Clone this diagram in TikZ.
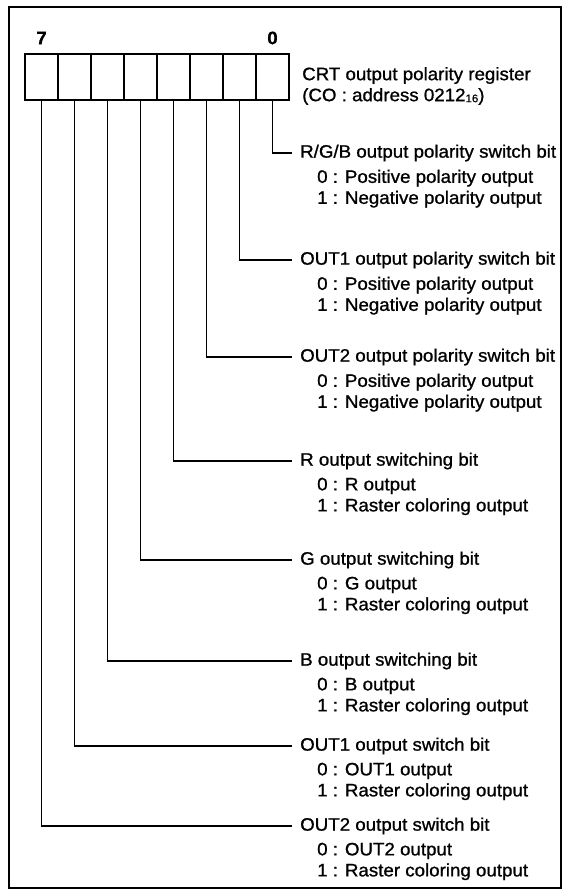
\documentclass[tikz,border=0pt]{standalone}
\usepackage{fontspec}
\setmainfont{Liberation Sans}[FakeStretch=1.04, FakeBold=1]
\begin{document}
\begin{tikzpicture}[x=1pt,y=1pt]
    \tikzstyle{every node}+=[inner sep=0pt, font=\fontsize{18}{21}\selectfont]
    \tikzstyle{cell}=[draw, line width=2.6pt, minimum width=33pt, minimum height=46pt]
    \tikzstyle{lead}=[line width=1.5pt]
    \tikzstyle{title}=[anchor=west, inner xsep=8pt]
    \tikzstyle{opt}=[anchor=north west, align=left]
    \useasboundingbox (0,0) rectangle (567,-892);
    \draw [line width=2pt] (9,-7) rectangle (561,-888);
    % register cells, bit 7 on the left
    \node [cell] (c7) at (41.5,-77) {};
    \node [cell] (c6) at (74.5,-77) {};
    \node [cell] (c5) at (107.5,-77) {};
    \node [cell] (c4) at (140.5,-77) {};
    \node [cell] (c3) at (173.5,-77) {};
    \node [cell] (c2) at (206.5,-77) {};
    \node [cell] (c1) at (239.5,-77) {};
    \node [cell] (c0) at (272.5,-77) {};
    \node [font=\fontsize{18}{21}\selectfont\bfseries] (n7) at (41.5,-38) {7};
    \node [font=\fontsize{18}{21}\selectfont\bfseries] (n0) at (272.5,-38) {0};
    \node [anchor=west, align=left] (reg) at (302,-86) {CRT output polarity register\\(CO : address 0212\raisebox{-1pt}{\fontsize{11}{11}\selectfont 16})};
    % bit descriptions
    \node [title] (t0) at (292,-153) {R/G/B output polarity switch bit};
    \node [opt] (d0) at ([xshift=25pt,yshift=-8pt]t0.south west) {0 : Positive polarity output\\1 : Negative polarity output};
    \node [title] (t1) at (292,-260) {OUT1 output polarity switch bit};
    \node [opt] (d1) at ([xshift=25pt,yshift=-8pt]t1.south west) {0 : Positive polarity output\\1 : Negative polarity output};
    \node [title] (t2) at (292,-357) {OUT2 output polarity switch bit};
    \node [opt] (d2) at ([xshift=25pt,yshift=-8pt]t2.south west) {0 : Positive polarity output\\1 : Negative polarity output};
    \node [title] (t3) at (292,-461) {R output switching bit};
    \node [opt] (d3) at ([xshift=25pt,yshift=-8pt]t3.south west) {0 : R output\\1 : Raster coloring output};
    \node [title] (t4) at (292,-560) {G output switching bit};
    \node [opt] (d4) at ([xshift=25pt,yshift=-8pt]t4.south west) {0 : G output\\1 : Raster coloring output};
    \node [title] (t5) at (292,-661) {B output switching bit};
    \node [opt] (d5) at ([xshift=25pt,yshift=-8pt]t5.south west) {0 : B output\\1 : Raster coloring output};
    \node [title] (t6) at (292,-746) {OUT1 output switch bit};
    \node [opt] (d6) at ([xshift=25pt,yshift=-8pt]t6.south west) {0 : OUT1 output\\1 : Raster coloring output};
    \node [title] (t7) at (292,-826) {OUT2 output switch bit};
    \node [opt] (d7) at ([xshift=25pt,yshift=-8pt]t7.south west) {0 : OUT2 output\\1 : Raster coloring output};
    % leader lines
    \draw [lead] (c0.south) |- (t0.west);
    \draw [lead] (c1.south) |- (t1.west);
    \draw [lead] (c2.south) |- (t2.west);
    \draw [lead] (c3.south) |- (t3.west);
    \draw [lead] (c4.south) |- (t4.west);
    \draw [lead] (c5.south) |- (t5.west);
    \draw [lead] (c6.south) |- (t6.west);
    \draw [lead] (c7.south) |- (t7.west);
\end{tikzpicture}
\end{document}
